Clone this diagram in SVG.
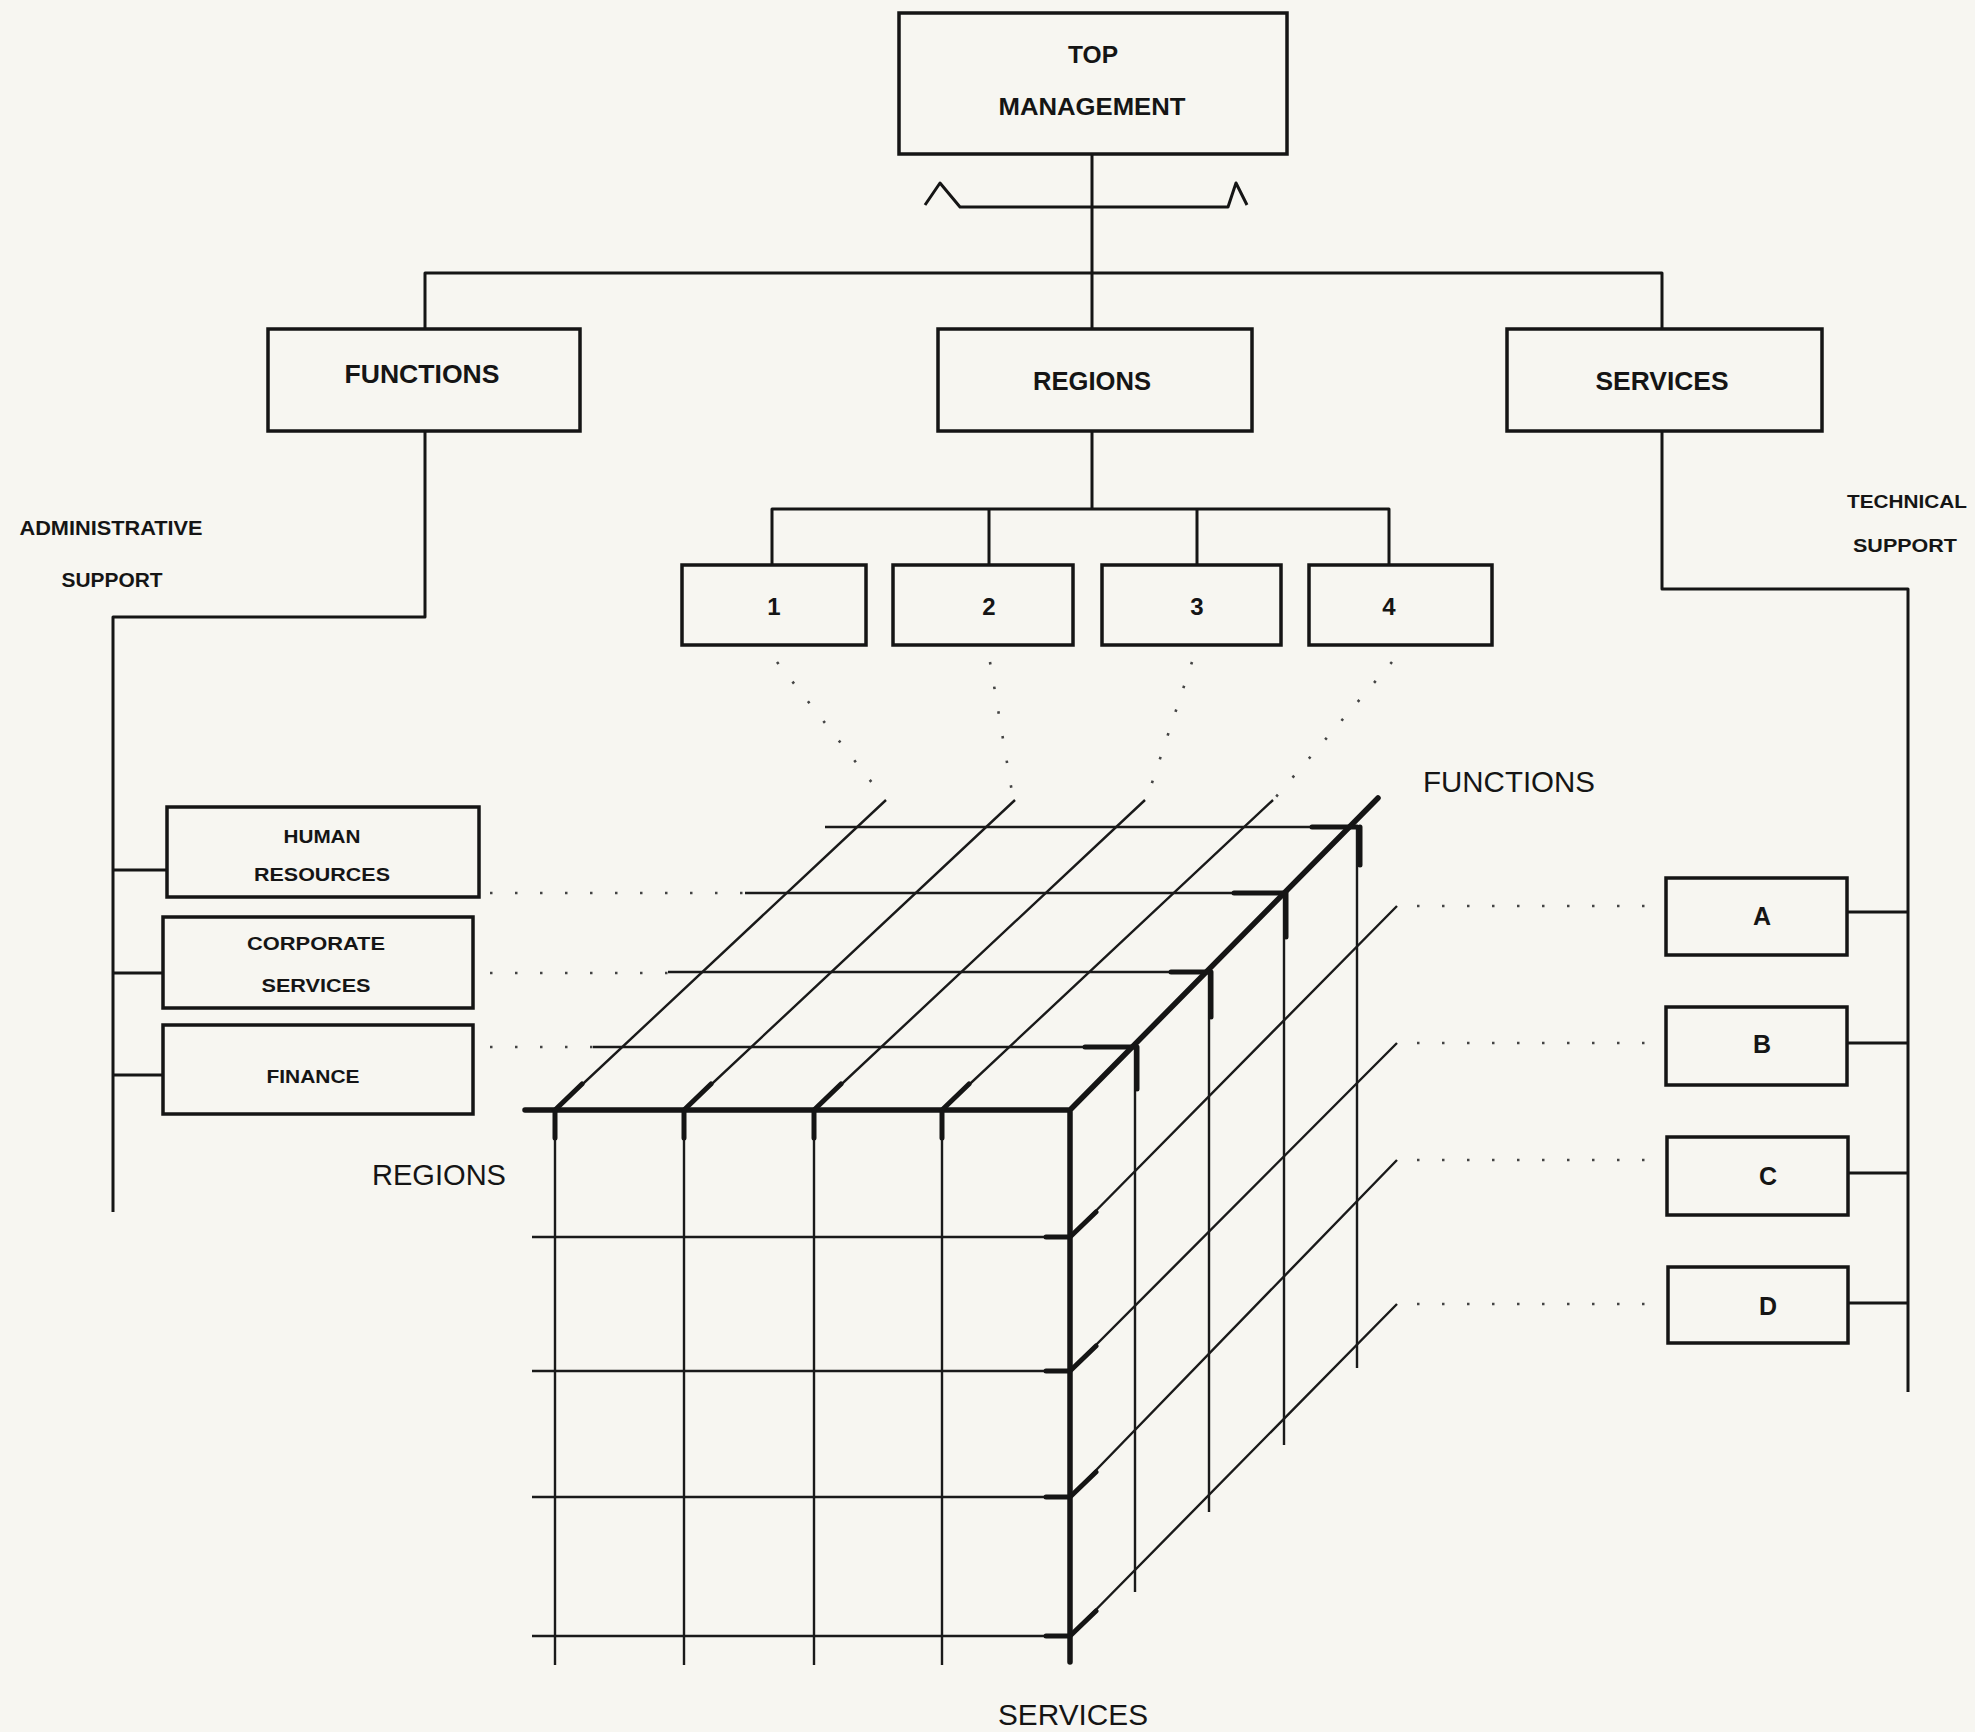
<svg xmlns="http://www.w3.org/2000/svg" width="1975" height="1732" viewBox="0 0 1975 1732">
  <style>
    .box { fill: none; stroke: #151515; stroke-width: 3.5; }
    .ln { fill: none; stroke: #151515; stroke-width: 3; stroke-linejoin: round; }
    .grid { fill: none; stroke: #1a1a1a; stroke-width: 2.4; }
    .edge { fill: none; stroke: #151515; stroke-width: 5.5; stroke-linecap: round; }
    .tick { fill: none; stroke: #151515; stroke-width: 5; stroke-linecap: round; }
    .dot { fill: none; stroke: #444; stroke-width: 2.6; stroke-dasharray: 2.5 22.5; }
    .t { font-family: "Liberation Sans", Arial, sans-serif; font-weight: bold; fill: #151515; text-anchor: middle; }
    .ax { font-family: "Liberation Sans", Arial, sans-serif; font-size: 29px; fill: #151515; text-anchor: middle; }
  </style>

  <rect x="0" y="0" width="1975" height="1732" fill="#f7f6f1"/>

  <!-- connectors of the organisation chart -->
  <g id="connectors">
    <path class="ln" d="M1092,154 V329"/>
    <path class="ln" d="M925,205 L940,183 L960,207 H1228 L1236,183 L1247,205"/>
    <path class="ln" d="M425,329 V273 H1662 V329"/>
    <path class="ln" d="M425,431 V617 H113 V1212"/>
    <path class="ln" d="M113,870 H167 M113,973 H163 M113,1075 H163"/>
    <path class="ln" d="M1092,431 V509"/>
    <path class="ln" d="M772,565 V509 H1389 V565 M989,509 V565 M1197,509 V565"/>
    <path class="ln" d="M1662,431 V589 H1908 V1392"/>
    <path class="ln" d="M1847,912 H1908 M1847,1043 H1908 M1847,1173 H1908 M1847,1303 H1908"/>
    <!-- dotted links into the matrix -->
    <path class="dot" d="M490,893 H745 M490,973 H668 M490,1047 H593"/>
    <path class="dot" d="M1417,906 H1664 M1417,1043 H1664 M1417,1160 H1664 M1417,1304 H1664"/>
    <path class="dot" d="M777,662 L884,798 M990,662 L1013,798 M1192,662 L1147,798 M1392,662 L1275,798"/>
  </g>

  <g id="top-management">
    <rect class="box" x="899" y="13" width="388" height="141"/>
    <text class="t" x="1093" y="63" font-size="23" textLength="50" lengthAdjust="spacingAndGlyphs">TOP</text>
    <text class="t" x="1092" y="115" font-size="23" textLength="187" lengthAdjust="spacingAndGlyphs">MANAGEMENT</text>
  </g>

  <g id="functions">
    <rect class="box" x="268" y="329" width="312" height="102"/>
    <text class="t" x="422" y="383" font-size="25" textLength="155" lengthAdjust="spacingAndGlyphs">FUNCTIONS</text>
  </g>
  <g id="regions">
    <rect class="box" x="938" y="329" width="314" height="102"/>
    <text class="t" x="1092" y="390" font-size="25" textLength="118" lengthAdjust="spacingAndGlyphs">REGIONS</text>
  </g>
  <g id="services">
    <rect class="box" x="1507" y="329" width="315" height="102"/>
    <text class="t" x="1662" y="390" font-size="25" textLength="133" lengthAdjust="spacingAndGlyphs">SERVICES</text>
  </g>

  <g id="administrative-support">
    <text class="t" x="111" y="535" font-size="20" textLength="183" lengthAdjust="spacingAndGlyphs">ADMINISTRATIVE</text>
    <text class="t" x="112" y="587" font-size="20" textLength="101" lengthAdjust="spacingAndGlyphs">SUPPORT</text>
  </g>
  <g id="technical-support">
    <text class="t" x="1907" y="508" font-size="19" textLength="120" lengthAdjust="spacingAndGlyphs">TECHNICAL</text>
    <text class="t" x="1905" y="552" font-size="19" textLength="104" lengthAdjust="spacingAndGlyphs">SUPPORT</text>
  </g>

  <g id="region-1">
    <rect class="box" x="682" y="565" width="184" height="80"/>
    <text class="t" x="774" y="615" font-size="24">1</text>
  </g>
  <g id="region-2">
    <rect class="box" x="893" y="565" width="180" height="80"/>
    <text class="t" x="989" y="615" font-size="24">2</text>
  </g>
  <g id="region-3">
    <rect class="box" x="1102" y="565" width="179" height="80"/>
    <text class="t" x="1197" y="615" font-size="24">3</text>
  </g>
  <g id="region-4">
    <rect class="box" x="1309" y="565" width="183" height="80"/>
    <text class="t" x="1389" y="615" font-size="24">4</text>
  </g>

  <g id="human-resources">
    <rect class="box" x="167" y="807" width="312" height="90"/>
    <text class="t" x="322" y="843" font-size="19" textLength="77" lengthAdjust="spacingAndGlyphs">HUMAN</text>
    <text class="t" x="322" y="881" font-size="19" textLength="136" lengthAdjust="spacingAndGlyphs">RESOURCES</text>
  </g>
  <g id="corporate-services">
    <rect class="box" x="163" y="917" width="310" height="91"/>
    <text class="t" x="316" y="950" font-size="19" textLength="138" lengthAdjust="spacingAndGlyphs">CORPORATE</text>
    <text class="t" x="316" y="992" font-size="19" textLength="109" lengthAdjust="spacingAndGlyphs">SERVICES</text>
  </g>
  <g id="finance">
    <rect class="box" x="163" y="1025" width="310" height="89"/>
    <text class="t" x="313" y="1083" font-size="19" textLength="93" lengthAdjust="spacingAndGlyphs">FINANCE</text>
  </g>

  <g id="service-a">
    <rect class="box" x="1666" y="878" width="181" height="77"/>
    <text class="t" x="1762" y="925" font-size="25" font-weight="normal">A</text>
  </g>
  <g id="service-b">
    <rect class="box" x="1666" y="1007" width="181" height="78"/>
    <text class="t" x="1762" y="1053" font-size="25" font-weight="normal">B</text>
  </g>
  <g id="service-c">
    <rect class="box" x="1667" y="1137" width="181" height="78"/>
    <text class="t" x="1768" y="1185" font-size="25" font-weight="normal">C</text>
  </g>
  <g id="service-d">
    <rect class="box" x="1668" y="1267" width="180" height="76"/>
    <text class="t" x="1768" y="1315" font-size="25" font-weight="normal">D</text>
  </g>

  <!-- three-dimensional matrix: regions x functions x services -->
  <g id="matrix">
    <!-- front face -->
    <path class="grid" d="M532,1237 H1070 M532,1371 H1070 M532,1497 H1070 M532,1636 H1070"/>
    <path class="grid" d="M555,1110 V1665 M684,1110 V1665 M814,1110 V1665 M942,1110 V1665"/>
    <!-- top face -->
    <path class="grid" d="M593,1047 H1135 M668,972 H1209 M745,893 H1284 M825,827 H1357"/>
    <path class="grid" d="M555,1110 L886,800 M684,1110 L1015,800 M814,1110 L1145,800 M942,1110 L1273,800"/>
    <!-- right face -->
    <path class="grid" d="M1135,1047 V1592 M1209,972 V1512 M1284,893 V1445 M1357,827 V1368"/>
    <path class="grid" d="M1070,1237 L1397,906 M1070,1371 L1397,1043 M1070,1497 L1397,1160 M1070,1636 L1397,1304"/>
    <!-- heavy outer edges -->
    <path class="edge" d="M525,1110 H1070 V1662 M1070,1110 L1378,798"/>
    <!-- corner marks along the front top edge -->
    <path class="tick" d="M555,1110 l27,-26 M555,1110 v28 M684,1110 l27,-26 M684,1110 v28 M814,1110 l27,-26 M814,1110 v28 M942,1110 l27,-26 M942,1110 v28"/>
    <!-- corner marks along the top right edge -->
    <path class="tick" d="M1135,1047 h-50 M1137,1047 v42 M1209,972 h-38 M1211,972 v45 M1284,893 h-50 M1286,893 v44 M1357,827 h-45 M1360,827 v38"/>
    <!-- corner marks along the front right edge -->
    <path class="tick" d="M1070,1237 h-24 M1070,1237 l26,-25 M1070,1371 h-24 M1070,1371 l26,-25 M1070,1497 h-24 M1070,1497 l26,-25 M1070,1636 h-24 M1070,1636 l26,-25"/>
  </g>

  <g id="axis-labels">
    <text class="ax" x="1509" y="792" textLength="172" lengthAdjust="spacingAndGlyphs">FUNCTIONS</text>
    <text class="ax" x="439" y="1185" textLength="134" lengthAdjust="spacingAndGlyphs">REGIONS</text>
    <text class="ax" x="1073" y="1725" textLength="150" lengthAdjust="spacingAndGlyphs">SERVICES</text>
  </g>
</svg>
